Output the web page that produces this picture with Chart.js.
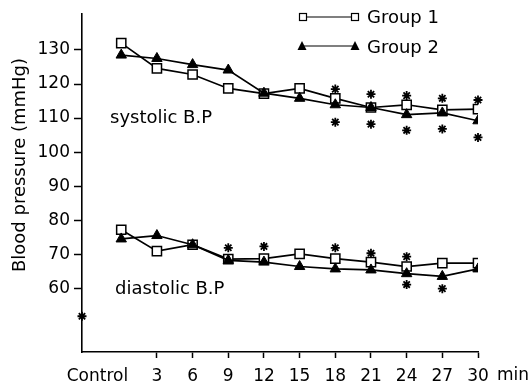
<!DOCTYPE html>
<html>
<head>
<meta charset="utf-8">
<title>Blood pressure</title>
<script src="https://cdn.jsdelivr.net/npm/chart.js"></script>
<style>
  body { margin: 0; background: #fff; }
  #wrap { width: 532px; height: 391px; position: relative; }
</style>
</head>
<body>
<div id="wrap"><canvas id="bp"></canvas></div>
<script>
// values (mmHg), time in minutes, 0 = control
const minutes = [0, 3, 6, 9, 12, 15, 18, 21, 24, 27, 30];
const sysGroup1 = [132, 124.6, 122.8, 118.7, 117.2, 118.7, 115.8, 113.1, 113.9, 112.4, 112.6];
const sysGroup2 = [128.5, 127.5, 125.7, 124.1, 117.3, 115.8, 113.9, 113.1, 111, 111.5, 109.2];
const diaGroup1 = [77.2, 70.9, 72.8, 68.6, 68.7, 70.1, 68.7, 67.7, 66.4, 67.4, 67.4];
const diaGroup2 = [74.5, 75.5, 72.8, 68.2, 67.7, 66.4, 65.7, 65.4, 64.3, 63.5, 65.7];

// significance asterisks
const starMinutes = [18, 21, 24, 27, 30, 18, 21, 24, 27, 30, 9, 12, 18, 21, 24, 24, 27, -3.3];
const starValues = [118.5, 117, 116.6, 115.8, 115.3, 108.8, 108.2, 106.4, 106.8, 104.3,
                    71.9, 72.3, 71.9, 70.3, 69.3, 61.1, 59.9, 51.8];

const xTicks = [-2, 3, 6, 9, 12, 15, 18, 21, 24, 27, 30];
const yTicks = [60, 70, 80, 90, 100, 110, 120, 130];
const FONT = 'DejaVu Sans';

const pts = (xs, ys) => xs.map((x, i) => ({ x: x, y: ys[i] }));

const square = {
  pointStyle: 'rect', pointRadius: 6.5, pointBackgroundColor: '#fff',
  pointBorderColor: '#000', pointBorderWidth: 1.5
};
const triangle = {
  pointStyle: 'triangle', pointRadius: 6, pointBackgroundColor: '#000',
  pointBorderColor: '#000', pointBorderWidth: 1
};
const line = { borderColor: '#000', borderWidth: 1.7, showLine: true, tension: 0 };

// legend and free text drawn on top
const notes = {
  id: 'notes',
  afterDraw(chart) {
    const ctx = chart.ctx;
    ctx.save();
    ctx.fillStyle = '#000';
    ctx.strokeStyle = '#000';
    ctx.textBaseline = 'middle';

    // legend
    ctx.lineWidth = 1.2;
    ctx.beginPath(); ctx.moveTo(303, 17); ctx.lineTo(355, 17); ctx.stroke();
    ctx.beginPath(); ctx.moveTo(302, 46); ctx.lineTo(355, 46); ctx.stroke();
    [303, 355].forEach(x => {
      ctx.fillStyle = '#fff';
      ctx.fillRect(x - 3.5, 13.5, 7, 7);
      ctx.strokeRect(x - 3.5, 13.5, 7, 7);
      ctx.fillStyle = '#000';
    });
    [302, 355].forEach(x => {
      ctx.beginPath();
      ctx.moveTo(x, 41); ctx.lineTo(x + 4.5, 50); ctx.lineTo(x - 4.5, 50);
      ctx.closePath(); ctx.fill();
    });
    ctx.font = '18px "' + FONT + '"';
    ctx.textAlign = 'left';
    ctx.fillText('Group 1', 367, 18);
    ctx.fillText('Group 2', 367, 48);

    ctx.fillText('systolic B.P', 110, 118);
    ctx.fillText('diastolic B.P', 115, 289);

    ctx.font = '17px "' + FONT + '"';
    ctx.fillText('min', 497, 376);

    // y axis title
    ctx.font = '18px "' + FONT + '"';
    ctx.translate(20, 165);
    ctx.rotate(-Math.PI / 2);
    ctx.textAlign = 'center';
    ctx.fillText('Blood pressure (mmHg)', 0, 0);
    ctx.restore();
  }
};

new Chart(document.getElementById('bp'), {
  type: 'scatter',
  data: {
    datasets: [
      Object.assign({ label: 'Group 2 systolic', data: pts(minutes, sysGroup2), order: 1 }, line, triangle),
      Object.assign({ label: 'Group 2 diastolic', data: pts(minutes, diaGroup2), order: 1 }, line, triangle),
      Object.assign({ label: 'Group 1 systolic', data: pts(minutes, sysGroup1), order: 2 }, line, square),
      Object.assign({ label: 'Group 1 diastolic', data: pts(minutes, diaGroup1), order: 2 }, line, square),
      {
        label: 'p < 0.05', data: pts(starMinutes, starValues), order: 0,
        showLine: false, pointStyle: 'star', pointRadius: 4.5,
        pointBorderColor: '#000', pointBorderWidth: 1.8, clip: false
      }
    ]
  },
  options: {
    responsive: true,
    maintainAspectRatio: false,
    animation: false,
    layout: { padding: { top: 12, right: 54, left: 0, bottom: 0 } },
    plugins: { legend: { display: false }, tooltip: { enabled: false } },
    scales: {
      x: {
        type: 'linear', min: -3.3, max: 30,
        afterBuildTicks: s => { s.ticks = xTicks.map(v => ({ value: v })); },
        afterFit: s => { s.height = 39; },
        border: { color: '#000', width: 1.6 },
        grid: {
          drawOnChartArea: false, tickLength: 6, tickWidth: 1.5,
          tickColor: c => (c.tick && c.tick.value < 0 ? 'rgba(0,0,0,0)' : '#000')
        },
        ticks: {
          color: '#000', padding: 8, maxRotation: 0, autoSkip: false,
          font: { family: FONT, size: 17 },
          callback: v => (v < 0 ? 'Control' : String(v))
        }
      },
      y: {
        min: 41.3, max: 140.5,
        afterBuildTicks: s => { s.ticks = yTicks.map(v => ({ value: v })); },
        afterFit: s => { s.width = 82; },
        border: { color: '#000', width: 1.6 },
        grid: { drawOnChartArea: false, tickLength: 8, tickWidth: 1.5, tickColor: '#000' },
        ticks: { color: '#000', padding: 4, font: { family: FONT, size: 17 } }
      }
    }
  },
  plugins: [notes]
});
</script>
</body>
</html>
